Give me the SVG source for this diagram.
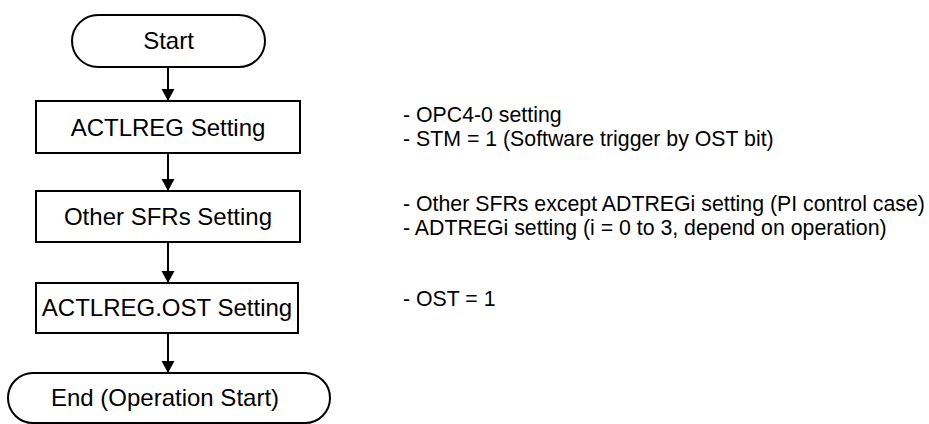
<svg xmlns="http://www.w3.org/2000/svg" width="929" height="424" viewBox="0 0 929 424">
<defs>
<style>
.shape{fill:#fff;stroke:#000;stroke-width:2}
.lbl{font-family:"Liberation Sans",Arial,sans-serif;font-size:24px;fill:#000;text-anchor:middle}
.note{font-family:"Liberation Sans",Arial,sans-serif;font-size:21.3px;fill:#000}
.conn{stroke:#000;stroke-width:2;fill:none;marker-end:url(#arr)}
</style>
<marker id="arr" markerWidth="12" markerHeight="15" refX="12" refY="7.5" orient="auto" markerUnits="userSpaceOnUse" viewBox="0 0 12 15">
<path d="M0,1 L12,7.5 L0,14 Z" fill="#000"/>
</marker>
</defs>
<rect width="929" height="424" fill="#fff"/>
<g id="connectors">
<line class="conn" x1="168" y1="67" x2="168" y2="101"/>
<line class="conn" x1="168" y1="153" x2="168" y2="191"/>
<line class="conn" x1="168" y1="242" x2="168" y2="283"/>
<line class="conn" x1="168" y1="333" x2="168" y2="373"/>
</g>
<g id="start">
<rect class="shape" x="72" y="15" width="193" height="52" rx="26" ry="26"/>
<text class="lbl" x="168.5" y="49">Start</text>
</g>
<g id="actlreg">
<rect class="shape" x="36" y="101" width="264" height="52"/>
<text class="lbl" x="168" y="136">ACTLREG Setting</text>
</g>
<g id="other">
<rect class="shape" x="36" y="191" width="264" height="51"/>
<text class="lbl" x="168" y="225">Other SFRs Setting</text>
</g>
<g id="ost">
<rect class="shape" x="36" y="283" width="262" height="50"/>
<text class="lbl" x="167" y="316">ACTLREG.OST Setting</text>
</g>
<g id="end">
<rect class="shape" x="8" y="373" width="322" height="50" rx="25" ry="25"/>
<text class="lbl" x="165" y="406">End (Operation Start)</text>
</g>
<g id="notes">
<text class="note" x="403" y="122">- OPC4-0 setting</text>
<text class="note" x="403" y="146">- STM = 1 (Software trigger by OST bit)</text>
<text class="note" x="403" y="211">- Other SFRs except ADTREGi setting (PI control case)</text>
<text class="note" x="403" y="235">- ADTREGi setting (i = 0 to 3, depend on operation)</text>
<text class="note" x="403" y="306">- OST = 1</text>
</g>
</svg>
